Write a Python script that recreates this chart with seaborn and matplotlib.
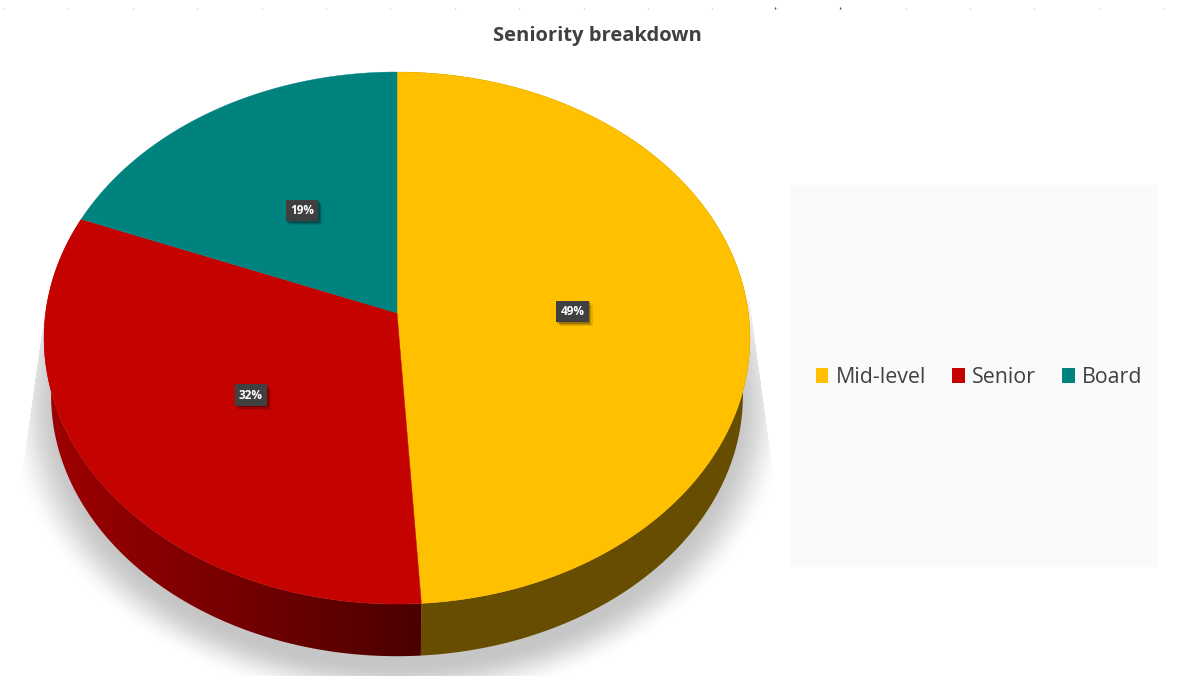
import numpy as np
import matplotlib
matplotlib.use("Agg")
import matplotlib.pyplot as plt
import matplotlib.patheffects as pe
from matplotlib.patches import Patch, Polygon, Rectangle
import seaborn as sns

categories = ["Mid-level", "Senior", "Board"]
shares = [49, 32, 19]
colors = ["#FFC000", "#C40300", "#00827F"]
title = "Seniority breakdown"

sns.set_theme(style="white")
plt.rcParams["font.family"] = ["Open Sans", "DejaVu Sans"]

# perspective of the tilted pie, in pixels of the picture
cx, cy = 397, 313
rx, ry, k = 351.4, 263.65, 0.094
drop, shrink = 371 - 313, 0.98


def project(angle, r=1.0, scale=1.0, dy=0.0):
    u = r * np.sin(angle)
    v = r * np.cos(angle)
    d = 1 + k * v
    return cx + scale * rx * u / d, cy + dy - scale * ry * v / d


fig = plt.figure(figsize=(11.93, 6.97), dpi=100, facecolor="white")
ax = fig.add_axes([0, 0, 1, 1])

# soft shadow under the pie
yy, xx = np.mgrid[0:697, 0:1193]
dist = np.sqrt(((xx - 397) / 392) ** 2 + ((yy - 405) / 300) ** 2)
fade = np.clip((1 - dist) / 0.14, 0, 1)
fade = fade * fade * (3 - 2 * fade)
left_edge = 46 - (yy - 300) * 24 / 170
right_edge = 749 + (yy - 300) * 22 / 160
fade[(yy > 675) | (yy < 300) | (xx < left_edge) | (xx > right_edge)] = 0
shadow = np.zeros((697, 1193, 4))
shadow[..., :3] = 0.78
shadow[..., 3] = fade
ax.imshow(shadow, extent=(0, 1193, 697, 0), zorder=1, interpolation="bilinear")

# legend panel
ax.add_patch(Rectangle((790, 185), 368, 382, facecolor="#FAFAFA", edgecolor="none", zorder=1))

# faint marks along the top edge
ax.vlines(np.arange(4, 1193, 64.4), 7.5, 8.5, color="#bbbbbb", lw=0.8, zorder=1)
ax.vlines([775, 840], 7, 9, color="#1f5f5f", lw=0.9, zorder=1)

edges = np.cumsum([0] + shares) / sum(shares) * 2 * np.pi


def side_polygon(i):
    a = np.linspace(edges[i], edges[i + 1], 300)
    x1, y1 = project(a)
    x2, y2 = project(a[::-1], scale=shrink, dy=drop)
    return np.c_[np.r_[x1, x2], np.r_[y1, y2]]


# side walls: flat for the gold slice, dark towards the front for the red one
ax.add_patch(Polygon(side_polygon(0), facecolor="#664D00", edgecolor="none", zorder=2))
red_cmap = sns.blend_palette(["#A00000", "#760000", "#4A0000"], 256, as_cmap=True)
ramp = ax.imshow(np.linspace(0, 1, 400)[None, :], extent=(40, 425, 697, 0), cmap=red_cmap,
                 aspect="auto", zorder=2)
clip = Polygon(side_polygon(1), transform=ax.transData)
ramp.set_clip_path(clip)

# top face
for i in range(len(shares)):
    a = np.linspace(edges[i], edges[i + 1], 300)
    x, y = project(a)
    ax.fill(np.r_[cx, x], np.r_[cy, y], facecolor=colors[i], edgecolor=colors[i], lw=0.3, zorder=3)

# percentage labels
for i in range(len(shares)):
    lx, ly = project((edges[i] + edges[i + 1]) / 2, r=0.5)
    t = ax.text(lx, ly + 2.5, f"{shares[i]}%", color="white", fontsize=8.5, fontweight="bold",
                ha="center", va="center", zorder=5,
                bbox=dict(boxstyle="square,pad=0.36", facecolor="#404040", edgecolor="none"))
    t.get_bbox_patch().set_path_effects([
        pe.SimplePatchShadow(offset=(3, -3), shadow_rgbFace="black", alpha=0.1),
        pe.SimplePatchShadow(offset=(2, -2), shadow_rgbFace="black", alpha=0.15),
        pe.SimplePatchShadow(offset=(1, -1), shadow_rgbFace="black", alpha=0.2),
        pe.Normal(),
    ])

ax.text(597, 36, title, color="#404040", fontsize=14.5, fontweight="bold",
        ha="center", va="center", zorder=5)

handles = [Patch(facecolor=c, edgecolor="none") for c in colors]
ax.legend(handles, categories, ncols=3, loc="center", bbox_to_anchor=(979, 377.5),
          bbox_transform=ax.transData, frameon=False, fontsize=15.4, labelcolor="#404040",
          handlelength=0.6, handleheight=0.64, handletextpad=0.33, columnspacing=1.22)

ax.set_xlim(0, 1193)
ax.set_ylim(697, 0)
ax.axis("off")

fig.savefig("out.png", dpi=100)
